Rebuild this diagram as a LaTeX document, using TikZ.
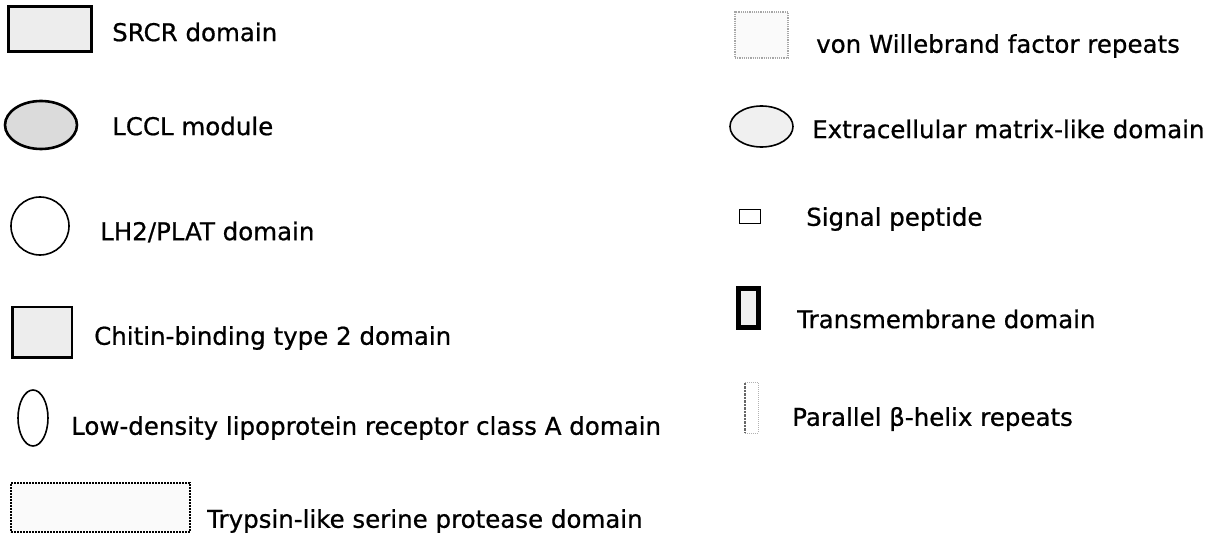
\documentclass[tikz,border=0pt]{standalone}
\usepackage{fontspec}
\setmainfont{DejaVu Sans}[FakeBold=0.7]
\usetikzlibrary{shapes.geometric}
\begin{document}
\begin{tikzpicture}[x=1pt,y=-1pt,
  lbl/.style={anchor=west,inner sep=0pt,font=\fontsize{24.5}{27}\selectfont},
  dom/.style={draw=black,line width=2pt},
  speck/.style={fill=gray!14},
  dotbox/.style={draw=gray!70,densely dotted,line width=1.2pt}]
\useasboundingbox (0,0) rectangle (1230,540);

% left column of legend symbols
\node[dom,line width=3pt,speck,minimum width=83pt,minimum height=45pt,inner sep=0pt] (srcr) at (49.5,29.5) {};
\node[lbl] (srcrT) at (112,32) {SRCR domain};

\node[dom,line width=2.6pt,fill=gray!28,ellipse,minimum width=72pt,minimum height=48pt,inner sep=0pt] (lccl) at (41,125) {};
\node[lbl] (lcclT) at (112,126) {LCCL module};

\node[dom,line width=1.6pt,circle,minimum size=58pt,inner sep=0pt] (lh2) at (40,226) {};
\node[lbl] (lh2T) at (100,232) {LH2/PLAT domain};

\node[dom,line width=1.6pt,speck,minimum width=59pt,minimum height=50pt,inner sep=0pt] (chit) at (42.5,332) {};
\draw[line width=2.5pt] (chit.north west) -- (chit.south west) -- (chit.south east);
\node[lbl] (chitT) at (94,338) {Chitin-binding type 2 domain};

\node[dom,line width=1.6pt,ellipse,minimum width=30pt,minimum height=56pt,inner sep=0pt] (ldl) at (33,418) {};
\node[lbl] (ldlT) at (71,428) {Low-density lipoprotein receptor class A domain};

\node[draw=black,densely dotted,line width=2pt,fill=gray!4,minimum width=179pt,minimum height=49pt,inner sep=0pt] (tryp) at (100.5,507.5) {};
\node[lbl] (trypT) at (207,521) {Trypsin-like serine protease domain};

% right column of legend symbols
\node[dotbox,fill=gray!4,minimum width=53pt,minimum height=46pt,inner sep=0pt] (vwf) at (761.5,35) {};
\node[lbl] (vwfT) at (816,46) {von Willebrand factor repeats};

\node[dom,line width=1.6pt,fill=gray!12,ellipse,minimum width=63pt,minimum height=41pt,inner sep=0pt] (ecm) at (761.5,126.5) {};
\node[lbl] (ecmT) at (812,129) {Extracellular matrix-like domain};

\node[dom,line width=1.6pt,minimum width=21pt,minimum height=14pt,inner sep=0pt] (sig) at (750,216.5) {};
\node[lbl] (sigT) at (806,219) {Signal peptide};

\node[draw=black,line width=5pt,fill=gray!12,minimum width=20pt,minimum height=39pt,inner sep=0pt] (tm) at (748,307.5) {};
\node[lbl] (tmT) at (797,319) {Transmembrane domain};

\node[minimum width=13pt,minimum height=50pt,inner sep=0pt] (beta) at (751.5,408) {};
\draw[densely dotted,line width=2.5pt,draw=gray!80!black] (beta.north west) -- (beta.south west);
\draw[densely dotted,line width=1pt,draw=gray!60] (beta.north west) -- (beta.north east) -- (beta.south east) -- (beta.south west);
\node[lbl] (betaT) at (792,419) {Parallel β-helix repeats};
\end{tikzpicture}
\end{document}
